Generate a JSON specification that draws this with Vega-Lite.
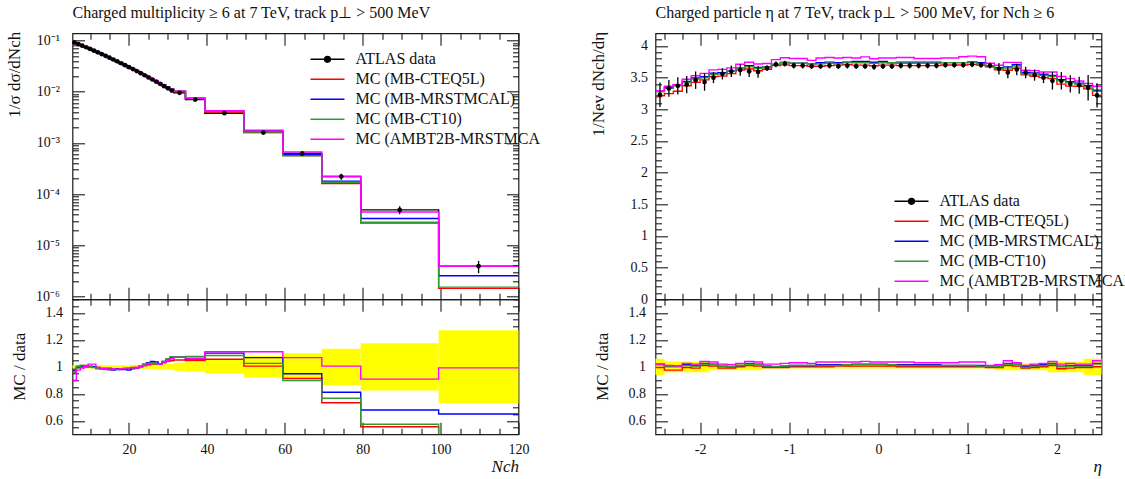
{
"$schema": "https://vega.github.io/schema/vega-lite/v6.json",
"autosize": "none",
"padding": {"left": 72.5, "top": 33.3, "right": 1052.5, "bottom": 445.7},
"background": "white",
"config": {
  "font": "Liberation Serif",
  "view": {"stroke": "#1a1a1a", "strokeWidth": 1.2},
  "axis": {"domain": false, "grid": false, "tickColor": "#1a1a1a", "tickWidth": 1.1, "labelFont": "Liberation Serif", "labelFontSize": 14, "labelColor": "#111", "titleFont": "Liberation Serif", "titleFontSize": 17, "titleFontWeight": "normal", "titleColor": "#111", "labelOverlap": false, "labelFlush": false},
  "legend": {"labelFont": "Liberation Serif", "labelFontSize": 16, "labelColor": "#111"},
  "title": {"font": "Liberation Serif", "fontSize": 16, "fontWeight": "normal", "color": "#111", "anchor": "start", "offset": 10}
},
"datasets": {
"ldat": [
{"x":6,"y":0.0912,"lo":0.0901,"hi":0.0923},{"x":7,"y":0.0850,"lo":0.0840,"hi":0.0860},{"x":8,"y":0.0791,"lo":0.0782,"hi":0.0800},{"x":9,"y":0.0736,"lo":0.0727,"hi":0.0745},{"x":10,"y":0.0683,"lo":0.0675,"hi":0.0691},{"x":11,"y":0.0633,"lo":0.0625,"hi":0.0641},{"x":12,"y":0.0586,"lo":0.0579,"hi":0.0593},{"x":13,"y":0.0542,"lo":0.0536,"hi":0.0548},{"x":14,"y":0.0501,"lo":0.0495,"hi":0.0507},{"x":15,"y":0.0461,"lo":0.0455,"hi":0.0467},{"x":16,"y":0.0425,"lo":0.0420,"hi":0.0430},{"x":17,"y":0.0391,"lo":0.0386,"hi":0.0396},{"x":18,"y":0.0359,"lo":0.0355,"hi":0.0363},{"x":19,"y":0.0329,"lo":0.0325,"hi":0.0333},{"x":20,"y":0.0301,"lo":0.0297,"hi":0.0305},{"x":21,"y":0.0276,"lo":0.0272,"hi":0.0280},{"x":22,"y":0.0252,"lo":0.0248,"hi":0.0256},{"x":23,"y":0.0230,"lo":0.0227,"hi":0.0233},{"x":24,"y":0.0209,"lo":0.0206,"hi":0.0212},{"x":25,"y":0.0190,"lo":0.0187,"hi":0.0193},{"x":26,"y":0.0173,"lo":0.0170,"hi":0.0176},{"x":27,"y":0.0157,"lo":0.0154,"hi":0.0160},{"x":28,"y":0.0142,"lo":0.0139,"hi":0.0145},{"x":29,"y":0.0128,"lo":0.0125,"hi":0.0131},{"x":30,"y":0.0116,"lo":0.0114,"hi":0.0118},{"x":31,"y":0.0105,"lo":0.0103,"hi":0.0107},{"x":33,"y":0.0095,"lo":0.00922,"hi":0.00979},{"x":37,"y":0.0070,"lo":0.00676,"hi":0.00725},{"x":44.5,"y":0.0038,"lo":0.00361,"hi":0.00399},{"x":54.5,"y":0.00159,"lo":0.00146,"hi":0.00172},{"x":64.5,"y":0.00062,"lo":0.000558,"hi":0.000682},{"x":74.5,"y":0.00022,"lo":0.000191,"hi":0.000249},{"x":89.5,"y":0.000049,"lo":0.0000404,"hi":0.0000576},{"x":109.75,"y":0.0000039,"lo":0.00000285,"hi":0.00000495}
],
"lmain": [
{"x":5.5,"atlas":0.0912,"cteq":0.0894,"mrst":0.0885,"ct10":0.0876,"ambt":0.0821},
{"x":6.5,"atlas":0.0850,"cteq":0.0854,"mrst":0.0846,"ct10":0.0850,"ambt":0.0829},
{"x":7.5,"atlas":0.0791,"cteq":0.0799,"mrst":0.0791,"ct10":0.0799,"ambt":0.0783},
{"x":8.5,"atlas":0.0736,"cteq":0.0743,"mrst":0.0736,"ct10":0.0740,"ambt":0.0736},
{"x":9.5,"atlas":0.0683,"cteq":0.0683,"mrst":0.0686,"ct10":0.0683,"ambt":0.0697},
{"x":10.5,"atlas":0.0633,"cteq":0.0633,"mrst":0.0633,"ct10":0.0630,"ambt":0.0646},
{"x":11.5,"atlas":0.0586,"cteq":0.0583,"mrst":0.0580,"ct10":0.0577,"ambt":0.0583},
{"x":12.5,"atlas":0.0542,"cteq":0.0537,"mrst":0.0534,"ct10":0.0534,"ambt":0.0534},
{"x":13.5,"atlas":0.0501,"cteq":0.0496,"mrst":0.0493,"ct10":0.0491,"ambt":0.0493},
{"x":14.5,"atlas":0.0461,"cteq":0.0456,"mrst":0.0452,"ct10":0.0452,"ambt":0.0452},
{"x":15.5,"atlas":0.0425,"cteq":0.0419,"mrst":0.0414,"ct10":0.0417,"ambt":0.0419},
{"x":16.5,"atlas":0.0391,"cteq":0.0385,"mrst":0.0385,"ct10":0.0383,"ambt":0.0383},
{"x":17.5,"atlas":0.0359,"cteq":0.0354,"mrst":0.0352,"ct10":0.0354,"ambt":0.0354},
{"x":18.5,"atlas":0.0329,"cteq":0.0324,"mrst":0.0322,"ct10":0.0324,"ambt":0.0326},
{"x":19.5,"atlas":0.0301,"cteq":0.0296,"mrst":0.0293,"ct10":0.0298,"ambt":0.0298},
{"x":20.5,"atlas":0.0276,"cteq":0.0273,"mrst":0.0272,"ct10":0.0273,"ambt":0.0275},
{"x":21.5,"atlas":0.0252,"cteq":0.0251,"mrst":0.0249,"ct10":0.0251,"ambt":0.0249},
{"x":22.5,"atlas":0.0230,"cteq":0.0231,"mrst":0.0230,"ct10":0.0231,"ambt":0.0230},
{"x":23.5,"atlas":0.0209,"cteq":0.0211,"mrst":0.0213,"ct10":0.0212,"ambt":0.0211},
{"x":24.5,"atlas":0.0190,"cteq":0.0193,"mrst":0.0196,"ct10":0.0195,"ambt":0.0194},
{"x":25.5,"atlas":0.0173,"cteq":0.0176,"mrst":0.0180,"ct10":0.0178,"ambt":0.0177},
{"x":26.5,"atlas":0.0157,"cteq":0.0160,"mrst":0.0162,"ct10":0.0160,"ambt":0.0161},
{"x":27.5,"atlas":0.0142,"cteq":0.0145,"mrst":0.0145,"ct10":0.0145,"ambt":0.0145},
{"x":28.5,"atlas":0.0128,"cteq":0.0132,"mrst":0.0133,"ct10":0.0133,"ambt":0.0132},
{"x":29.5,"atlas":0.0116,"cteq":0.0121,"mrst":0.0122,"ct10":0.0123,"ambt":0.0122},
{"x":30.5,"atlas":0.0105,"cteq":0.0110,"mrst":0.0112,"ct10":0.0113,"ambt":0.0111},
{"x":31.5,"atlas":0.0095,"cteq":0.00998,"mrst":0.01017,"ct10":0.01021,"ambt":0.01017},
{"x":34.5,"atlas":0.0070,"cteq":0.00732,"mrst":0.00741,"ct10":0.00753,"ambt":0.00744},
{"x":39.5,"atlas":0.0038,"cteq":0.00401,"mrst":0.00418,"ct10":0.00412,"ambt":0.00423},
{"x":49.5,"atlas":0.00159,"cteq":0.00160,"mrst":0.00170,"ct10":0.00163,"ambt":0.00177},
{"x":59.5,"atlas":0.00062,"cteq":0.000567,"mrst":0.000588,"ct10":0.000557,"ambt":0.000662},
{"x":69.5,"atlas":0.00022,"cteq":0.000161,"mrst":0.000179,"ct10":0.000169,"ambt":0.000221},
{"x":79.5,"atlas":0.000049,"cteq":0.0000272,"mrst":0.0000333,"ct10":0.0000281,"ambt":0.0000445},
{"x":99.5,"atlas":0.0000039,"cteq":0.00000144,"mrst":0.00000254,"ct10":0.00000152,"ambt":0.00000387},
{"x":120,"atlas":0.0000039,"cteq":0.00000144,"mrst":0.00000254,"ct10":0.00000152,"ambt":0.00000387}
],
"lrat": [
{"x":5.5,"cteq":0.98,"mrst":0.97,"ct10":0.96,"ambt":0.90},
{"x":6.5,"cteq":1.005,"mrst":0.995,"ct10":1.0,"ambt":0.975},
{"x":7.5,"cteq":1.01,"mrst":1.0,"ct10":1.01,"ambt":0.99},
{"x":8.5,"cteq":1.01,"mrst":1.0,"ct10":1.005,"ambt":1.0},
{"x":9.5,"cteq":1.0,"mrst":1.005,"ct10":1.0,"ambt":1.02},
{"x":10.5,"cteq":1.0,"mrst":1.0,"ct10":0.995,"ambt":1.02},
{"x":11.5,"cteq":0.995,"mrst":0.99,"ct10":0.985,"ambt":0.995},
{"x":12.5,"cteq":0.99,"mrst":0.985,"ct10":0.985,"ambt":0.985},
{"x":13.5,"cteq":0.99,"mrst":0.985,"ct10":0.98,"ambt":0.985},
{"x":14.5,"cteq":0.99,"mrst":0.98,"ct10":0.98,"ambt":0.98},
{"x":15.5,"cteq":0.985,"mrst":0.975,"ct10":0.98,"ambt":0.985},
{"x":16.5,"cteq":0.985,"mrst":0.985,"ct10":0.98,"ambt":0.98},
{"x":17.5,"cteq":0.985,"mrst":0.98,"ct10":0.985,"ambt":0.985},
{"x":18.5,"cteq":0.985,"mrst":0.98,"ct10":0.985,"ambt":0.99},
{"x":19.5,"cteq":0.985,"mrst":0.975,"ct10":0.99,"ambt":0.99},
{"x":20.5,"cteq":0.99,"mrst":0.985,"ct10":0.99,"ambt":0.995},
{"x":21.5,"cteq":0.995,"mrst":0.99,"ct10":0.995,"ambt":0.99},
{"x":22.5,"cteq":1.005,"mrst":1.0,"ct10":1.005,"ambt":1.0},
{"x":23.5,"cteq":1.01,"mrst":1.02,"ct10":1.015,"ambt":1.01},
{"x":24.5,"cteq":1.015,"mrst":1.03,"ct10":1.025,"ambt":1.02},
{"x":25.5,"cteq":1.02,"mrst":1.04,"ct10":1.03,"ambt":1.025},
{"x":26.5,"cteq":1.02,"mrst":1.035,"ct10":1.02,"ambt":1.025},
{"x":27.5,"cteq":1.02,"mrst":1.02,"ct10":1.02,"ambt":1.02},
{"x":28.5,"cteq":1.03,"mrst":1.04,"ct10":1.04,"ambt":1.035},
{"x":29.5,"cteq":1.04,"mrst":1.055,"ct10":1.06,"ambt":1.05},
{"x":30.5,"cteq":1.045,"mrst":1.065,"ct10":1.075,"ambt":1.06},
{"x":31.5,"cteq":1.05,"mrst":1.07,"ct10":1.075,"ambt":1.07},
{"x":34.5,"cteq":1.046,"mrst":1.058,"ct10":1.076,"ambt":1.063},
{"x":39.5,"cteq":1.056,"mrst":1.101,"ct10":1.084,"ambt":1.112},
{"x":49.5,"cteq":1.005,"mrst":1.068,"ct10":1.025,"ambt":1.112},
{"x":59.5,"cteq":0.914,"mrst":0.949,"ct10":0.899,"ambt":1.068},
{"x":69.5,"cteq":0.734,"mrst":0.812,"ct10":0.767,"ambt":1.005},
{"x":79.5,"cteq":0.556,"mrst":0.68,"ct10":0.574,"ambt":0.909},
{"x":99.5,"cteq":0.37,"mrst":0.65,"ct10":0.39,"ambt":0.992},
{"x":120,"cteq":0.37,"mrst":0.65,"ct10":0.39,"ambt":0.992}
],
"lband": [
{"x1":5.5,"x2":20.5,"lo":0.988,"hi":1.012},{"x1":20.5,"x2":25.5,"lo":0.985,"hi":1.015},{"x1":25.5,"x2":31.5,"lo":0.98,"hi":1.02},{"x1":31.5,"x2":34.5,"lo":0.97,"hi":1.03},{"x1":34.5,"x2":39.5,"lo":0.965,"hi":1.035},{"x1":39.5,"x2":49.5,"lo":0.95,"hi":1.05},{"x1":49.5,"x2":59.5,"lo":0.92,"hi":1.08},{"x1":59.5,"x2":69.5,"lo":0.90,"hi":1.10},{"x1":69.5,"x2":79.5,"lo":0.866,"hi":1.134},{"x1":79.5,"x2":99.5,"lo":0.825,"hi":1.175},{"x1":99.5,"x2":120,"lo":0.73,"hi":1.27}
],
"rdat": [
{"x":-2.45,"y":3.23,"lo":3.036,"hi":3.424},{"x":-2.35,"y":3.33,"lo":3.197,"hi":3.463},{"x":-2.25,"y":3.37,"lo":3.235,"hi":3.505},{"x":-2.15,"y":3.39,"lo":3.254,"hi":3.526},{"x":-2.05,"y":3.46,"lo":3.322,"hi":3.598},{"x":-1.95,"y":3.43,"lo":3.293,"hi":3.567},{"x":-1.85,"y":3.50,"lo":3.413,"hi":3.588},{"x":-1.75,"y":3.56,"lo":3.471,"hi":3.649},{"x":-1.65,"y":3.60,"lo":3.51,"hi":3.69},{"x":-1.55,"y":3.62,"lo":3.53,"hi":3.711},{"x":-1.45,"y":3.60,"lo":3.51,"hi":3.69},{"x":-1.35,"y":3.59,"lo":3.50,"hi":3.68},{"x":-1.25,"y":3.65,"lo":3.606,"hi":3.694},{"x":-1.15,"y":3.71,"lo":3.665,"hi":3.755},{"x":-1.05,"y":3.72,"lo":3.675,"hi":3.765},{"x":-0.95,"y":3.69,"lo":3.646,"hi":3.734},{"x":-0.85,"y":3.69,"lo":3.646,"hi":3.734},{"x":-0.75,"y":3.68,"lo":3.636,"hi":3.724},{"x":-0.65,"y":3.68,"lo":3.636,"hi":3.724},{"x":-0.55,"y":3.69,"lo":3.646,"hi":3.734},{"x":-0.45,"y":3.68,"lo":3.636,"hi":3.724},{"x":-0.35,"y":3.69,"lo":3.646,"hi":3.734},{"x":-0.25,"y":3.68,"lo":3.636,"hi":3.724},{"x":-0.15,"y":3.68,"lo":3.636,"hi":3.724},{"x":-0.05,"y":3.67,"lo":3.626,"hi":3.714},{"x":0.05,"y":3.68,"lo":3.636,"hi":3.724},{"x":0.15,"y":3.68,"lo":3.636,"hi":3.724},{"x":0.25,"y":3.69,"lo":3.646,"hi":3.734},{"x":0.35,"y":3.69,"lo":3.646,"hi":3.734},{"x":0.45,"y":3.69,"lo":3.646,"hi":3.734},{"x":0.55,"y":3.69,"lo":3.646,"hi":3.734},{"x":0.65,"y":3.69,"lo":3.646,"hi":3.734},{"x":0.75,"y":3.70,"lo":3.656,"hi":3.744},{"x":0.85,"y":3.70,"lo":3.656,"hi":3.744},{"x":0.95,"y":3.70,"lo":3.656,"hi":3.744},{"x":1.05,"y":3.71,"lo":3.665,"hi":3.755},{"x":1.15,"y":3.70,"lo":3.656,"hi":3.744},{"x":1.25,"y":3.69,"lo":3.646,"hi":3.734},{"x":1.35,"y":3.64,"lo":3.549,"hi":3.731},{"x":1.45,"y":3.58,"lo":3.491,"hi":3.67},{"x":1.55,"y":3.63,"lo":3.539,"hi":3.721},{"x":1.65,"y":3.58,"lo":3.491,"hi":3.67},{"x":1.75,"y":3.54,"lo":3.452,"hi":3.629},{"x":1.85,"y":3.50,"lo":3.413,"hi":3.588},{"x":1.95,"y":3.45,"lo":3.312,"hi":3.588},{"x":2.05,"y":3.45,"lo":3.312,"hi":3.588},{"x":2.15,"y":3.40,"lo":3.264,"hi":3.536},{"x":2.25,"y":3.38,"lo":3.245,"hi":3.515},{"x":2.35,"y":3.34,"lo":3.14,"hi":3.54},{"x":2.45,"y":3.22,"lo":3.027,"hi":3.413}
],
"rmain": [
{"x":-2.5,"cteq":3.214,"mrst":3.295,"ct10":3.278,"ambt":3.295},
{"x":-2.4,"cteq":3.247,"mrst":3.347,"ct10":3.33,"ambt":3.363},
{"x":-2.3,"cteq":3.286,"mrst":3.387,"ct10":3.37,"ambt":3.387},
{"x":-2.2,"cteq":3.373,"mrst":3.441,"ct10":3.424,"ambt":3.475},
{"x":-2.1,"cteq":3.425,"mrst":3.495,"ct10":3.477,"ambt":3.529},
{"x":-2.0,"cteq":3.464,"mrst":3.516,"ct10":3.499,"ambt":3.567},
{"x":-1.9,"cteq":3.518,"mrst":3.57,"ct10":3.553,"ambt":3.623},
{"x":-1.8,"cteq":3.524,"mrst":3.578,"ct10":3.56,"ambt":3.631},
{"x":-1.7,"cteq":3.564,"mrst":3.60,"ct10":3.60,"ambt":3.654},
{"x":-1.6,"cteq":3.62,"mrst":3.656,"ct10":3.656,"ambt":3.711},
{"x":-1.5,"cteq":3.636,"mrst":3.69,"ct10":3.672,"ambt":3.744},
{"x":-1.4,"cteq":3.608,"mrst":3.662,"ct10":3.644,"ambt":3.716},
{"x":-1.3,"cteq":3.632,"mrst":3.668,"ct10":3.668,"ambt":3.723},
{"x":-1.2,"cteq":3.691,"mrst":3.71,"ct10":3.71,"ambt":3.784},
{"x":-1.1,"cteq":3.701,"mrst":3.739,"ct10":3.739,"ambt":3.813},
{"x":-1.0,"cteq":3.69,"mrst":3.727,"ct10":3.727,"ambt":3.801},
{"x":-0.9,"cteq":3.69,"mrst":3.727,"ct10":3.727,"ambt":3.801},
{"x":-0.8,"cteq":3.68,"mrst":3.717,"ct10":3.717,"ambt":3.772},
{"x":-0.7,"cteq":3.68,"mrst":3.735,"ct10":3.717,"ambt":3.809},
{"x":-0.6,"cteq":3.69,"mrst":3.745,"ct10":3.727,"ambt":3.819},
{"x":-0.5,"cteq":3.698,"mrst":3.735,"ct10":3.717,"ambt":3.809},
{"x":-0.4,"cteq":3.708,"mrst":3.745,"ct10":3.745,"ambt":3.819},
{"x":-0.3,"cteq":3.698,"mrst":3.754,"ct10":3.735,"ambt":3.809},
{"x":-0.2,"cteq":3.698,"mrst":3.754,"ct10":3.735,"ambt":3.827},
{"x":-0.1,"cteq":3.688,"mrst":3.743,"ct10":3.725,"ambt":3.798},
{"x":0.0,"cteq":3.698,"mrst":3.754,"ct10":3.735,"ambt":3.809},
{"x":0.1,"cteq":3.698,"mrst":3.735,"ct10":3.735,"ambt":3.809},
{"x":0.2,"cteq":3.69,"mrst":3.745,"ct10":3.727,"ambt":3.819},
{"x":0.3,"cteq":3.69,"mrst":3.745,"ct10":3.727,"ambt":3.819},
{"x":0.4,"cteq":3.69,"mrst":3.745,"ct10":3.727,"ambt":3.801},
{"x":0.5,"cteq":3.69,"mrst":3.745,"ct10":3.727,"ambt":3.801},
{"x":0.6,"cteq":3.69,"mrst":3.745,"ct10":3.727,"ambt":3.801},
{"x":0.7,"cteq":3.70,"mrst":3.737,"ct10":3.737,"ambt":3.811},
{"x":0.8,"cteq":3.70,"mrst":3.737,"ct10":3.737,"ambt":3.811},
{"x":0.9,"cteq":3.70,"mrst":3.737,"ct10":3.737,"ambt":3.83},
{"x":1.0,"cteq":3.71,"mrst":3.747,"ct10":3.747,"ambt":3.84},
{"x":1.1,"cteq":3.70,"mrst":3.737,"ct10":3.719,"ambt":3.83},
{"x":1.2,"cteq":3.672,"mrst":3.69,"ct10":3.69,"ambt":3.727},
{"x":1.3,"cteq":3.622,"mrst":3.658,"ct10":3.64,"ambt":3.695},
{"x":1.4,"cteq":3.616,"mrst":3.67,"ct10":3.652,"ambt":3.741},
{"x":1.5,"cteq":3.648,"mrst":3.703,"ct10":3.684,"ambt":3.739},
{"x":1.6,"cteq":3.544,"mrst":3.58,"ct10":3.562,"ambt":3.616},
{"x":1.7,"cteq":3.522,"mrst":3.575,"ct10":3.558,"ambt":3.611},
{"x":1.8,"cteq":3.50,"mrst":3.553,"ct10":3.535,"ambt":3.588},
{"x":1.9,"cteq":3.485,"mrst":3.536,"ct10":3.519,"ambt":3.588},
{"x":2.0,"cteq":3.398,"mrst":3.467,"ct10":3.45,"ambt":3.519},
{"x":2.1,"cteq":3.366,"mrst":3.434,"ct10":3.417,"ambt":3.485},
{"x":2.2,"cteq":3.363,"mrst":3.414,"ct10":3.397,"ambt":3.448},
{"x":2.3,"cteq":3.323,"mrst":3.373,"ct10":3.357,"ambt":3.407},
{"x":2.4,"cteq":3.22,"mrst":3.301,"ct10":3.284,"ambt":3.365},
{"x":2.5,"cteq":3.22,"mrst":3.301,"ct10":3.284,"ambt":3.365}
],
"rrat": [
{"x":-2.5,"cteq":0.995,"mrst":1.02,"ct10":1.015,"ambt":1.02},
{"x":-2.4,"cteq":0.975,"mrst":1.005,"ct10":1.0,"ambt":1.01},
{"x":-2.3,"cteq":0.975,"mrst":1.005,"ct10":1.0,"ambt":1.005},
{"x":-2.2,"cteq":0.995,"mrst":1.015,"ct10":1.01,"ambt":1.025},
{"x":-2.1,"cteq":0.99,"mrst":1.01,"ct10":1.005,"ambt":1.02},
{"x":-2.0,"cteq":1.01,"mrst":1.025,"ct10":1.02,"ambt":1.04},
{"x":-1.9,"cteq":1.005,"mrst":1.02,"ct10":1.015,"ambt":1.035},
{"x":-1.8,"cteq":0.99,"mrst":1.005,"ct10":1.0,"ambt":1.02},
{"x":-1.7,"cteq":0.99,"mrst":1.0,"ct10":1.0,"ambt":1.015},
{"x":-1.6,"cteq":1.0,"mrst":1.01,"ct10":1.01,"ambt":1.025},
{"x":-1.5,"cteq":1.01,"mrst":1.025,"ct10":1.02,"ambt":1.04},
{"x":-1.4,"cteq":1.005,"mrst":1.02,"ct10":1.015,"ambt":1.035},
{"x":-1.3,"cteq":0.995,"mrst":1.005,"ct10":1.005,"ambt":1.02},
{"x":-1.2,"cteq":0.995,"mrst":1.0,"ct10":1.0,"ambt":1.02},
{"x":-1.1,"cteq":0.995,"mrst":1.005,"ct10":1.005,"ambt":1.025},
{"x":-1.0,"cteq":1.0,"mrst":1.01,"ct10":1.01,"ambt":1.03},
{"x":-0.9,"cteq":1.0,"mrst":1.01,"ct10":1.01,"ambt":1.03},
{"x":-0.8,"cteq":1.0,"mrst":1.01,"ct10":1.01,"ambt":1.025},
{"x":-0.7,"cteq":1.0,"mrst":1.015,"ct10":1.01,"ambt":1.035},
{"x":-0.6,"cteq":1.0,"mrst":1.015,"ct10":1.01,"ambt":1.035},
{"x":-0.5,"cteq":1.005,"mrst":1.015,"ct10":1.01,"ambt":1.035},
{"x":-0.4,"cteq":1.005,"mrst":1.015,"ct10":1.015,"ambt":1.035},
{"x":-0.3,"cteq":1.005,"mrst":1.02,"ct10":1.015,"ambt":1.035},
{"x":-0.2,"cteq":1.005,"mrst":1.02,"ct10":1.015,"ambt":1.04},
{"x":-0.1,"cteq":1.005,"mrst":1.02,"ct10":1.015,"ambt":1.035},
{"x":0.0,"cteq":1.005,"mrst":1.02,"ct10":1.015,"ambt":1.035},
{"x":0.1,"cteq":1.005,"mrst":1.015,"ct10":1.015,"ambt":1.035},
{"x":0.2,"cteq":1.0,"mrst":1.015,"ct10":1.01,"ambt":1.035},
{"x":0.3,"cteq":1.0,"mrst":1.015,"ct10":1.01,"ambt":1.035},
{"x":0.4,"cteq":1.0,"mrst":1.015,"ct10":1.01,"ambt":1.03},
{"x":0.5,"cteq":1.0,"mrst":1.015,"ct10":1.01,"ambt":1.03},
{"x":0.6,"cteq":1.0,"mrst":1.015,"ct10":1.01,"ambt":1.03},
{"x":0.7,"cteq":1.0,"mrst":1.01,"ct10":1.01,"ambt":1.03},
{"x":0.8,"cteq":1.0,"mrst":1.01,"ct10":1.01,"ambt":1.03},
{"x":0.9,"cteq":1.0,"mrst":1.01,"ct10":1.01,"ambt":1.035},
{"x":1.0,"cteq":1.0,"mrst":1.01,"ct10":1.01,"ambt":1.035},
{"x":1.1,"cteq":1.0,"mrst":1.01,"ct10":1.005,"ambt":1.035},
{"x":1.2,"cteq":0.995,"mrst":1.0,"ct10":1.0,"ambt":1.01},
{"x":1.3,"cteq":0.995,"mrst":1.005,"ct10":1.0,"ambt":1.015},
{"x":1.4,"cteq":1.01,"mrst":1.025,"ct10":1.02,"ambt":1.045},
{"x":1.5,"cteq":1.005,"mrst":1.02,"ct10":1.015,"ambt":1.03},
{"x":1.6,"cteq":0.99,"mrst":1.0,"ct10":0.995,"ambt":1.01},
{"x":1.7,"cteq":0.995,"mrst":1.01,"ct10":1.005,"ambt":1.02},
{"x":1.8,"cteq":1.0,"mrst":1.015,"ct10":1.01,"ambt":1.025},
{"x":1.9,"cteq":1.01,"mrst":1.025,"ct10":1.02,"ambt":1.04},
{"x":2.0,"cteq":0.985,"mrst":1.005,"ct10":1.0,"ambt":1.02},
{"x":2.1,"cteq":0.99,"mrst":1.01,"ct10":1.005,"ambt":1.025},
{"x":2.2,"cteq":0.995,"mrst":1.01,"ct10":1.005,"ambt":1.02},
{"x":2.3,"cteq":0.995,"mrst":1.01,"ct10":1.005,"ambt":1.02},
{"x":2.4,"cteq":1.0,"mrst":1.025,"ct10":1.02,"ambt":1.045},
{"x":2.5,"cteq":1.0,"mrst":1.025,"ct10":1.02,"ambt":1.045}
],
"rband": [
{"x1":-2.5,"x2":-2.4,"lo":0.94,"hi":1.06},{"x1":-2.4,"x2":-1.9,"lo":0.96,"hi":1.04},{"x1":-1.9,"x2":-1.3,"lo":0.975,"hi":1.025},{"x1":-1.3,"x2":1.3,"lo":0.988,"hi":1.012},{"x1":1.3,"x2":1.9,"lo":0.975,"hi":1.025},{"x1":1.9,"x2":2.3,"lo":0.96,"hi":1.04},{"x1":2.3,"x2":2.5,"lo":0.94,"hi":1.06}
]
},
"columns": 2,
"spacing": {"row": 0, "column": 137},
"bounds": "flush",
"resolve": {"legend": {"color": "independent"}},
"concat": [
{
  "width": 446, "height": 266,
  "title": {"text": "Charged multiplicity ≥ 6 at 7 TeV, track p⊥ > 500 MeV", "anchor": "start", "frame": "group", "offset": 10},
  "resolve": {"axis": {"x": "independent", "y": "independent"}},
  "layer": [
    {"data": {"name": "ldat"}, "mark": {"type": "point", "opacity": 0},
     "encoding": {
       "x": {"field": "x", "type": "quantitative", "scale": {"domain": [5.5, 120], "nice": false, "zero": false}, "axis": {"orient": "bottom", "values": [20,40,60,80,100,120], "tickSize": -12, "labels": false, "title": null}},
       "y": {"field": "y", "type": "quantitative", "scale": {"type": "log", "domain": [8.8e-7, 0.138], "nice": false}, "axis": {"orient": "left", "values": [1e-6,1e-5,1e-4,1e-3,1e-2,1e-1], "tickSize": -12, "labelPadding": 25, "labelExpr": "'10' + ['⁻⁶','⁻⁵','⁻⁴','⁻³','⁻²','⁻¹'][round(log(datum.value)/LN10)+6]", "title": "1/σ dσ/dNch", "titleAngle": 270, "titleAlign": "right", "titleBaseline": "bottom", "titleX": -49, "titleY": -2}}
     }},
    {"data": {"name": "ldat"}, "mark": {"type": "point", "opacity": 0},
     "encoding": {
       "x": {"field": "x", "type": "quantitative", "axis": {"orient": "top", "values": [20,40,60,80,100,120], "tickSize": -12, "labels": false, "title": null}},
       "y": {"field": "y", "type": "quantitative", "axis": {"orient": "right", "values": [1e-6,1e-5,1e-4,1e-3,1e-2,1e-1], "tickSize": -12, "labels": false, "title": null}}
     }},
    {"data": {"name": "ldat"}, "mark": {"type": "point", "opacity": 0},
     "encoding": {
       "x": {"field": "x", "type": "quantitative", "axis": {"orient": "bottom", "values": [10,15,25,30,35,45,50,55,65,70,75,85,90,95,105,110,115], "tickSize": -6, "labels": false, "title": null}},
       "y": {"field": "y", "type": "quantitative", "axis": {"orient": "left", "values": [9e-7,2e-6,3e-6,4e-6,5e-6,6e-6,7e-6,8e-6,9e-6,2e-5,3e-5,4e-5,5e-5,6e-5,7e-5,8e-5,9e-5,2e-4,3e-4,4e-4,5e-4,6e-4,7e-4,8e-4,9e-4,2e-3,3e-3,4e-3,5e-3,6e-3,7e-3,8e-3,9e-3,2e-2,3e-2,4e-2,5e-2,6e-2,7e-2,8e-2,9e-2], "tickSize": -6, "labels": false, "title": null}}
     }},
    {"data": {"name": "ldat"}, "mark": {"type": "point", "opacity": 0},
     "encoding": {
       "x": {"field": "x", "type": "quantitative", "axis": {"orient": "top", "values": [10,15,25,30,35,45,50,55,65,70,75,85,90,95,105,110,115], "tickSize": -6, "labels": false, "title": null}},
       "y": {"field": "y", "type": "quantitative", "axis": {"orient": "right", "values": [9e-7,2e-6,3e-6,4e-6,5e-6,6e-6,7e-6,8e-6,9e-6,2e-5,3e-5,4e-5,5e-5,6e-5,7e-5,8e-5,9e-5,2e-4,3e-4,4e-4,5e-4,6e-4,7e-4,8e-4,9e-4,2e-3,3e-3,4e-3,5e-3,6e-3,7e-3,8e-3,9e-3,2e-2,3e-2,4e-2,5e-2,6e-2,7e-2,8e-2,9e-2], "tickSize": -6, "labels": false, "title": null}}
     }},
    {"data": {"name": "lmain"}, "transform": [{"fold": ["atlas","cteq","mrst","ct10","ambt"], "as": ["series","v"]}],
     "mark": {"type": "line", "interpolate": "step-after", "strokeWidth": 1.4, "clip": true},
     "encoding": {
       "x": {"field": "x", "type": "quantitative", "axis": null},
       "y": {"field": "v", "type": "quantitative", "axis": null},
       "color": {"field": "series", "type": "nominal", "scale": {"domain": ["atlas","cteq","mrst","ct10","ambt"], "range": ["#000000","#ff0000","#0000ff","#339933","#ff00ff"]},
         "legend": {"orient": "none", "legendX": 237, "legendY": 16, "title": null, "padding": 0, "symbolType": "stroke", "symbolSize": 1156, "symbolStrokeWidth": 1.4, "clipHeight": 20, "rowPadding": 0, "labelOffset": 10, "labelLimit": 190, "labelExpr": "{'atlas':'ATLAS data','cteq':'MC (MB-CTEQ5L)','mrst':'MC (MB-MRSTMCAL)','ct10':'MC (MB-CT10)','ambt':'MC (AMBT2B-MRSTMCAL)'}[datum.value]",
           "encode": {"symbols": {"update": {"shape": {"signal": "datum.value === 'atlas' ? 'M-1,0H1M0.17,0A0.17,0.17,0,1,1,-0.17,0A0.17,0.17,0,1,1,0.17,0Z' : 'stroke'"}, "fill": {"signal": "datum.value === 'atlas' ? 'black' : 'transparent'"}}}, "labels": {"enter": {"ellipsis": {"value": "\u200b"}}, "update": {"ellipsis": {"value": "\u200b"}}}}}},
       "order": {"field": "series"}
     }},
    {"data": {"name": "ldat"}, "mark": {"type": "rule", "color": "black", "strokeWidth": 1.3},
     "encoding": {"x": {"field": "x", "type": "quantitative", "axis": null}, "y": {"field": "lo", "type": "quantitative", "axis": null}, "y2": {"field": "hi"}}},
    {"data": {"name": "ldat"}, "mark": {"type": "circle", "color": "black", "opacity": 1, "size": 22},
     "encoding": {"x": {"field": "x", "type": "quantitative", "axis": null}, "y": {"field": "y", "type": "quantitative", "axis": null}}}
  ]
},
{
  "width": 446, "height": 266,
  "title": {"text": "Charged particle η at 7 TeV, track p⊥ > 500 MeV, for Nch ≥ 6", "anchor": "start", "frame": "group", "offset": 10},
  "resolve": {"axis": {"x": "independent", "y": "independent"}},
  "layer": [
    {"data": {"name": "rdat"}, "mark": {"type": "point", "opacity": 0},
     "encoding": {
       "x": {"field": "x", "type": "quantitative", "scale": {"domain": [-2.5, 2.5], "nice": false, "zero": false}, "axis": {"orient": "bottom", "values": [-2,-1,0,1,2], "tickSize": -12, "labels": false, "title": null}},
       "y": {"field": "y", "type": "quantitative", "scale": {"domain": [0, 4.2], "nice": false, "zero": false}, "axis": {"orient": "left", "values": [0,0.5,1,1.5,2,2.5,3,3.5,4], "format": "~g", "tickSize": -12, "labelPadding": 20, "title": "1/Nev dNch/dη", "titleAngle": 270, "titleAlign": "right", "titleBaseline": "bottom", "titleX": -48, "titleY": -2}}
     }},
    {"data": {"name": "rdat"}, "mark": {"type": "point", "opacity": 0},
     "encoding": {
       "x": {"field": "x", "type": "quantitative", "axis": {"orient": "top", "values": [-2,-1,0,1,2], "tickSize": -12, "labels": false, "title": null}},
       "y": {"field": "y", "type": "quantitative", "axis": {"orient": "right", "values": [0,0.5,1,1.5,2,2.5,3,3.5,4], "tickSize": -12, "labels": false, "title": null}}
     }},
    {"data": {"name": "rdat"}, "mark": {"type": "point", "opacity": 0},
     "encoding": {
       "x": {"field": "x", "type": "quantitative", "axis": {"orient": "bottom", "values": [-2.4,-2.2,-1.8,-1.6,-1.4,-1.2,-0.8,-0.6,-0.4,-0.2,0.2,0.4,0.6,0.8,1.2,1.4,1.6,1.8,2.2,2.4], "tickSize": -6, "labels": false, "title": null}},
       "y": {"field": "y", "type": "quantitative", "axis": {"orient": "left", "values": [0.1,0.2,0.3,0.4,0.6,0.7,0.8,0.9,1.1,1.2,1.3,1.4,1.6,1.7,1.8,1.9,2.1,2.2,2.3,2.4,2.6,2.7,2.8,2.9,3.1,3.2,3.3,3.4,3.6,3.7,3.8,3.9,4.1], "tickSize": -6, "labels": false, "title": null}}
     }},
    {"data": {"name": "rdat"}, "mark": {"type": "point", "opacity": 0},
     "encoding": {
       "x": {"field": "x", "type": "quantitative", "axis": {"orient": "top", "values": [-2.4,-2.2,-1.8,-1.6,-1.4,-1.2,-0.8,-0.6,-0.4,-0.2,0.2,0.4,0.6,0.8,1.2,1.4,1.6,1.8,2.2,2.4], "tickSize": -6, "labels": false, "title": null}},
       "y": {"field": "y", "type": "quantitative", "axis": {"orient": "right", "values": [0.1,0.2,0.3,0.4,0.6,0.7,0.8,0.9,1.1,1.2,1.3,1.4,1.6,1.7,1.8,1.9,2.1,2.2,2.3,2.4,2.6,2.7,2.8,2.9,3.1,3.2,3.3,3.4,3.6,3.7,3.8,3.9,4.1], "tickSize": -6, "labels": false, "title": null}}
     }},
    {"data": {"name": "rmain"}, "transform": [{"fold": ["cteq","mrst","ct10","ambt"], "as": ["series","v"]}],
     "mark": {"type": "line", "interpolate": "step-after", "strokeWidth": 1.4, "clip": true},
     "encoding": {
       "x": {"field": "x", "type": "quantitative", "axis": null},
       "y": {"field": "v", "type": "quantitative", "axis": null},
       "color": {"field": "series", "type": "nominal", "scale": {"domain": ["atlas","cteq","mrst","ct10","ambt"], "range": ["#000000","#ff0000","#0000ff","#339933","#ff00ff"]},
         "legend": {"orient": "none", "legendX": 238, "legendY": 158, "title": null, "padding": 0, "symbolType": "stroke", "symbolSize": 1156, "symbolStrokeWidth": 1.4, "clipHeight": 20, "rowPadding": 0, "labelOffset": 10, "labelLimit": 400, "labelExpr": "{'atlas':'ATLAS data','cteq':'MC (MB-CTEQ5L)','mrst':'MC (MB-MRSTMCAL)','ct10':'MC (MB-CT10)','ambt':'MC (AMBT2B-MRSTMCAL)'}[datum.value]",
           "encode": {"symbols": {"update": {"shape": {"signal": "datum.value === 'atlas' ? 'M-1,0H1M0.17,0A0.17,0.17,0,1,1,-0.17,0A0.17,0.17,0,1,1,0.17,0Z' : 'stroke'"}, "fill": {"signal": "datum.value === 'atlas' ? 'black' : 'transparent'"}}}}}}
     }},
    {"data": {"name": "rdat"}, "mark": {"type": "rule", "color": "black", "strokeWidth": 1.3},
     "encoding": {"x": {"field": "x", "type": "quantitative", "axis": null}, "y": {"field": "lo", "type": "quantitative", "axis": null}, "y2": {"field": "hi"}}},
    {"data": {"name": "rdat"}, "mark": {"type": "circle", "color": "black", "opacity": 1, "size": 22},
     "encoding": {"x": {"field": "x", "type": "quantitative", "axis": null}, "y": {"field": "y", "type": "quantitative", "axis": null}}}
  ]
},
{
  "width": 446, "height": 135,
  "resolve": {"axis": {"x": "independent", "y": "independent"}},
  "layer": [
    {"data": {"name": "lband"}, "mark": {"type": "rect", "color": "#ffff00", "opacity": 1},
     "encoding": {"x": {"field": "x1", "type": "quantitative", "scale": {"domain": [5.5, 120], "nice": false, "zero": false}, "axis": {"orient": "bottom", "values": [20,40,60,80,100,120], "tickSize": -12, "labelPadding": 20, "title": "Nch", "titleFontStyle": "italic", "titleAlign": "right", "titleBaseline": "alphabetic", "titleX": 446, "titleY": 37}}, "x2": {"field": "x2"},
       "y": {"field": "lo", "type": "quantitative", "scale": {"domain": [0.5, 1.5], "nice": false, "zero": false}, "axis": {"orient": "left", "values": [0.6,0.8,1,1.2,1.4], "format": "~g", "tickSize": -12, "labelPadding": 22, "title": "MC / data", "titleAngle": 270, "titleAlign": "center", "titleBaseline": "bottom", "titleX": -44, "titleY": 67}}, "y2": {"field": "hi"}}},
    {"data": {"name": "lband"}, "mark": {"type": "point", "opacity": 0},
     "encoding": {"x": {"field": "x1", "type": "quantitative", "axis": {"orient": "top", "values": [20,40,60,80,100,120], "tickSize": -12, "labels": false, "title": null}},
       "y": {"field": "lo", "type": "quantitative", "axis": {"orient": "right", "values": [0.6,0.8,1,1.2,1.4], "tickSize": -12, "labels": false, "title": null}}}},
    {"data": {"name": "lband"}, "mark": {"type": "point", "opacity": 0},
     "encoding": {"x": {"field": "x1", "type": "quantitative", "axis": {"orient": "bottom", "values": [10,15,25,30,35,45,50,55,65,70,75,85,90,95,105,110,115], "tickSize": -6, "labels": false, "title": null}},
       "y": {"field": "lo", "type": "quantitative", "axis": {"orient": "left", "values": [0.55,0.65,0.7,0.75,0.85,0.9,0.95,1.05,1.1,1.15,1.25,1.3,1.35,1.45], "tickSize": -6, "labels": false, "title": null}}}},
    {"data": {"name": "lband"}, "mark": {"type": "point", "opacity": 0},
     "encoding": {"x": {"field": "x1", "type": "quantitative", "axis": {"orient": "top", "values": [10,15,25,30,35,45,50,55,65,70,75,85,90,95,105,110,115], "tickSize": -6, "labels": false, "title": null}},
       "y": {"field": "lo", "type": "quantitative", "axis": {"orient": "right", "values": [0.55,0.65,0.7,0.75,0.85,0.9,0.95,1.05,1.1,1.15,1.25,1.3,1.35,1.45], "tickSize": -6, "labels": false, "title": null}}}},
    {"mark": {"type": "rule", "color": "#222", "strokeWidth": 1.6}, "encoding": {"y": {"datum": 1, "type": "quantitative", "axis": null}}},
    {"data": {"name": "lrat"}, "transform": [{"fold": ["cteq","mrst","ct10","ambt"], "as": ["series","v"]}],
     "mark": {"type": "line", "interpolate": "step-after", "strokeWidth": 1.4, "clip": true},
     "encoding": {
       "x": {"field": "x", "type": "quantitative", "axis": null},
       "y": {"field": "v", "type": "quantitative", "axis": null},
       "color": {"field": "series", "type": "nominal", "scale": {"domain": ["atlas","cteq","mrst","ct10","ambt"], "range": ["#000000","#ff0000","#0000ff","#339933","#ff00ff"]}, "legend": null}
     }}
  ]
},
{
  "width": 446, "height": 135,
  "resolve": {"axis": {"x": "independent", "y": "independent"}},
  "layer": [
    {"data": {"name": "rband"}, "mark": {"type": "rect", "color": "#ffff00", "opacity": 1},
     "encoding": {"x": {"field": "x1", "type": "quantitative", "scale": {"domain": [-2.5, 2.5], "nice": false, "zero": false}, "axis": {"orient": "bottom", "values": [-2,-1,0,1,2], "labelExpr": "'' + datum.value", "tickSize": -12, "labelPadding": 20, "title": "η", "titleFontStyle": "italic", "titleAlign": "right", "titleBaseline": "alphabetic", "titleX": 446, "titleY": 37}}, "x2": {"field": "x2"},
       "y": {"field": "lo", "type": "quantitative", "scale": {"domain": [0.5, 1.5], "nice": false, "zero": false}, "axis": {"orient": "left", "values": [0.6,0.8,1,1.2,1.4], "format": "~g", "tickSize": -12, "labelPadding": 22, "title": "MC / data", "titleAngle": 270, "titleAlign": "center", "titleBaseline": "bottom", "titleX": -44, "titleY": 67}}, "y2": {"field": "hi"}}},
    {"data": {"name": "rband"}, "mark": {"type": "point", "opacity": 0},
     "encoding": {"x": {"field": "x1", "type": "quantitative", "axis": {"orient": "top", "values": [-2,-1,0,1,2], "tickSize": -12, "labels": false, "title": null}},
       "y": {"field": "lo", "type": "quantitative", "axis": {"orient": "right", "values": [0.6,0.8,1,1.2,1.4], "tickSize": -12, "labels": false, "title": null}}}},
    {"data": {"name": "rband"}, "mark": {"type": "point", "opacity": 0},
     "encoding": {"x": {"field": "x1", "type": "quantitative", "axis": {"orient": "bottom", "values": [-2.4,-2.2,-1.8,-1.6,-1.4,-1.2,-0.8,-0.6,-0.4,-0.2,0.2,0.4,0.6,0.8,1.2,1.4,1.6,1.8,2.2,2.4], "tickSize": -6, "labels": false, "title": null}},
       "y": {"field": "lo", "type": "quantitative", "axis": {"orient": "left", "values": [0.55,0.65,0.7,0.75,0.85,0.9,0.95,1.05,1.1,1.15,1.25,1.3,1.35,1.45], "tickSize": -6, "labels": false, "title": null}}}},
    {"data": {"name": "rband"}, "mark": {"type": "point", "opacity": 0},
     "encoding": {"x": {"field": "x1", "type": "quantitative", "axis": {"orient": "top", "values": [-2.4,-2.2,-1.8,-1.6,-1.4,-1.2,-0.8,-0.6,-0.4,-0.2,0.2,0.4,0.6,0.8,1.2,1.4,1.6,1.8,2.2,2.4], "tickSize": -6, "labels": false, "title": null}},
       "y": {"field": "lo", "type": "quantitative", "axis": {"orient": "right", "values": [0.55,0.65,0.7,0.75,0.85,0.9,0.95,1.05,1.1,1.15,1.25,1.3,1.35,1.45], "tickSize": -6, "labels": false, "title": null}}}},
    {"mark": {"type": "rule", "color": "#222", "strokeWidth": 1.6}, "encoding": {"y": {"datum": 1, "type": "quantitative", "axis": null}}},
    {"data": {"name": "rrat"}, "transform": [{"fold": ["cteq","mrst","ct10","ambt"], "as": ["series","v"]}],
     "mark": {"type": "line", "interpolate": "step-after", "strokeWidth": 1.4, "clip": true},
     "encoding": {
       "x": {"field": "x", "type": "quantitative", "axis": null},
       "y": {"field": "v", "type": "quantitative", "axis": null},
       "color": {"field": "series", "type": "nominal", "scale": {"domain": ["atlas","cteq","mrst","ct10","ambt"], "range": ["#000000","#ff0000","#0000ff","#339933","#ff00ff"]}, "legend": null}
     }}
  ]
}
]
}
